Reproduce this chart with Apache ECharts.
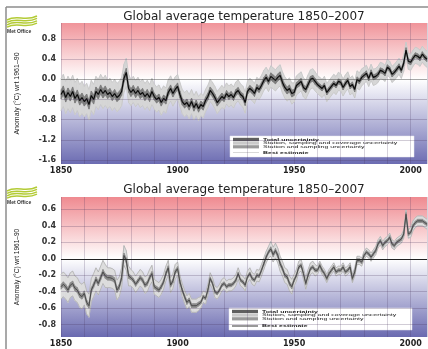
<!DOCTYPE html>
<html>
<head>
<meta charset="utf-8">
<script src="https://cdn.jsdelivr.net/npm/echarts@6/dist/echarts.min.js"></script>
<style>html,body{margin:0;padding:0;background:#fff}#chart{width:428px;height:349px}</style>
</head>
<body>
<div id="chart"></div>
<script>
var firstYear = 1850, lastYear = 2007;
var years = [];
for (var yr = firstYear; yr <= lastYear; yr++) years.push(yr);

var xLabelYears = [1850, 1900, 1950, 2000];
var topTicks = [-1.6, -1.2, -0.8, -0.4, 0.0, 0.4, 0.8];
var bottomTicks = [-0.8, -0.6, -0.4, -0.2, 0.0, 0.2, 0.4, 0.6];

// upper panel (noisy record), one value per year
var topBest = [
  -0.30, -0.22, -0.36, -0.26, -0.34, -0.24, -0.38, -0.30, -0.42, -0.36,
  -0.44, -0.38, -0.50, -0.32, -0.40, -0.24, -0.30, -0.20, -0.28, -0.22,
  -0.30, -0.26, -0.34, -0.28, -0.36, -0.32, -0.24, 0.02, 0.14, -0.18,
  -0.26, -0.20, -0.28, -0.22, -0.30, -0.26, -0.34, -0.28, -0.36, -0.24,
  -0.34, -0.40, -0.36, -0.46, -0.38, -0.42, -0.26, -0.18, -0.28, -0.20,
  -0.14, -0.30, -0.44, -0.50, -0.46, -0.54, -0.44, -0.56, -0.48, -0.58,
  -0.50, -0.54, -0.42, -0.34, -0.22, -0.28, -0.36, -0.46, -0.40, -0.34,
  -0.38, -0.28, -0.34, -0.30, -0.36, -0.26, -0.22, -0.30, -0.34, -0.46,
  -0.24, -0.18, -0.22, -0.28, -0.16, -0.20, -0.12, -0.02, 0.04, -0.04,
  0.06, 0.02, -0.02, 0.04, 0.08, -0.06, -0.16, -0.22, -0.18, -0.28,
  -0.26, -0.12, -0.08, -0.04, -0.16, -0.20, -0.10, 0.00, 0.02, -0.04,
  -0.10, -0.14, -0.18, -0.12, -0.26, -0.20, -0.14, -0.08, -0.12, -0.04,
  -0.06, -0.16, -0.08, -0.02, -0.14, -0.10, -0.20, 0.00, -0.04, 0.04,
  0.08, 0.12, 0.02, 0.14, 0.04, 0.06, 0.10, 0.18, 0.16, 0.12,
  0.24, 0.20, 0.10, 0.14, 0.20, 0.26, 0.18, 0.32, 0.58, 0.36,
  0.34, 0.42, 0.48, 0.46, 0.42, 0.50, 0.44, 0.40
];
// half widths of the grey spread per decade (1850s ... 2000s)
var topTotalUnc = [0.32, 0.30, 0.28, 0.26, 0.25, 0.24, 0.22, 0.21, 0.20, 0.21, 0.19, 0.18, 0.17, 0.16, 0.16, 0.16];
var topInnerUnc = [0.09, 0.09, 0.08, 0.08, 0.07, 0.07, 0.07, 0.06, 0.06, 0.07, 0.06, 0.05, 0.05, 0.05, 0.05, 0.05];

// lower panel (annual best estimate)
var bottomBest = [
  -0.34, -0.31, -0.34, -0.38, -0.32, -0.30, -0.36, -0.38, -0.44, -0.46,
  -0.42, -0.53, -0.57, -0.38, -0.32, -0.25, -0.30, -0.23, -0.16, -0.21,
  -0.23, -0.23, -0.24, -0.26, -0.38, -0.34, -0.23, 0.04, -0.02, -0.21,
  -0.23, -0.26, -0.31, -0.27, -0.23, -0.26, -0.32, -0.30, -0.23, -0.18,
  -0.34, -0.36, -0.38, -0.34, -0.28, -0.18, -0.11, -0.32, -0.27, -0.16,
  -0.12, -0.28, -0.38, -0.46, -0.53, -0.50, -0.57, -0.57, -0.57, -0.55,
  -0.53, -0.46, -0.48, -0.38, -0.24, -0.30, -0.40, -0.42, -0.38, -0.32,
  -0.30, -0.34, -0.32, -0.32, -0.30, -0.26, -0.18, -0.26, -0.28, -0.32,
  -0.22, -0.18, -0.24, -0.26, -0.20, -0.21, -0.14, -0.06, 0.02, 0.08,
  0.12, 0.05, 0.10, 0.04, -0.06, -0.12, -0.20, -0.22, -0.30, -0.34,
  -0.26, -0.20, -0.10, -0.08, -0.18, -0.30, -0.20, -0.12, -0.10, -0.14,
  -0.14, -0.08, -0.14, -0.18, -0.24, -0.18, -0.14, -0.10, -0.16, -0.14,
  -0.14, -0.10, -0.16, -0.14, -0.10, -0.24, -0.16, -0.02, -0.02, -0.04,
  0.04, 0.08, 0.06, 0.02, 0.06, 0.10, 0.18, 0.22, 0.16, 0.20,
  0.22, 0.26, 0.18, 0.16, 0.20, 0.22, 0.24, 0.30, 0.54, 0.30,
  0.32, 0.40, 0.44, 0.46, 0.46, 0.46, 0.44, 0.42
];
var bottomTotalUnc = [0.15, 0.14, 0.12, 0.10, 0.09, 0.08, 0.07, 0.07, 0.07, 0.09, 0.07, 0.05, 0.05, 0.05, 0.05, 0.06];
var bottomInnerUnc = [0.03, 0.03, 0.03, 0.025, 0.025, 0.025, 0.02, 0.02, 0.02, 0.025, 0.02, 0.02, 0.02, 0.02, 0.02, 0.02];

var legendLabels = ['Total uncertainty', 'Station, sampling and coverage uncertainty', 'Station and sampling uncertainty', 'Best estimate'];
var titleText = 'Global average temperature 1850\u20132007';
var axisName = 'Anomaly (\u00b0C) wrt 1961\u201390';

var dom = document.getElementById('chart');
var myChart = echarts.init(dom, null, { renderer: 'canvas' });

function uncAt(unc, i) { return unc[Math.floor(i / 10)]; }

function pairs(vals) {
  return vals.map(function (v, i) { return [years[i], v]; });
}
function edge(vals, unc, sign) {
  return vals.map(function (v, i) { return [years[i], +(v + sign * uncAt(unc, i)).toFixed(3)]; });
}
// one quad per year step: [x0, lo0, hi0, x1, lo1, hi1]
function bandData(vals, unc) {
  var out = [];
  for (var i = 0; i < vals.length - 1; i++) {
    var u0 = uncAt(unc, i), u1 = uncAt(unc, i + 1);
    out.push([years[i], vals[i] - u0, vals[i] + u0, years[i + 1], vals[i + 1] - u1, vals[i + 1] + u1]);
  }
  return out;
}

function bandSeries(idx, vals, unc, fill, edgeColor, edgeW, z) {
  var list = [{
    type: 'custom', xAxisIndex: idx, yAxisIndex: idx, silent: true, z: z,
    data: bandData(vals, unc),
    encode: { x: [0, 3], y: [1, 2, 4, 5] },
    renderItem: function (params, api) {
      var a = api.coord([api.value(0), api.value(1)]);
      var b = api.coord([api.value(3), api.value(4)]);
      var c = api.coord([api.value(3), api.value(5)]);
      var d = api.coord([api.value(0), api.value(2)]);
      return { type: 'polygon', shape: { points: [a, b, c, d] },
        style: { fill: fill, stroke: fill, lineWidth: 0.7 } };
    }
  }];
  if (edgeW > 0) {
    [-1, 1].forEach(function (s) {
      list.push({ type: 'line', xAxisIndex: idx, yAxisIndex: idx, data: edge(vals, unc, s), symbol: 'none',
        silent: true, z: z, lineStyle: { color: edgeColor, width: edgeW } });
    });
  }
  return list;
}

function gridLines(idx, ticks, zeroColor) {
  return {
    type: 'line', xAxisIndex: idx, yAxisIndex: idx, data: [[firstYear, 0]], symbol: 'none',
    lineStyle: { opacity: 0 }, silent: true, z: 1,
    markLine: {
      symbol: 'none', silent: true, label: { show: false },
      data: ticks.map(function (t) {
        return { yAxis: t, lineStyle: { type: 'solid', width: 1, color: t === 0 ? zeroColor : 'rgba(70,50,90,0.25)' } };
      })
    }
  };
}

function bgGradient(zeroOffset, topColor, bottomColor) {
  return new echarts.graphic.LinearGradient(0, 0, 0, 1, [
    { offset: 0, color: topColor },
    { offset: zeroOffset, color: '#ffffff' },
    { offset: 1, color: bottomColor }
  ]);
}

function xAxisFor(idx) {
  return {
    type: 'value', gridIndex: idx, min: firstYear, max: lastYear, interval: 10,
    axisLine: { show: false }, axisTick: { show: false },
    axisLabel: { margin: 3, fontSize: 8, fontWeight: 'bold', color: '#222', fontFamily: 'DejaVu Sans',
      showMaxLabel: false,
      formatter: function (v) { return xLabelYears.indexOf(v) >= 0 ? String(v) : ''; } },
    splitLine: { show: true, lineStyle: { color: 'rgba(70,50,90,0.22)', width: 1 } }
  };
}

function yAxisFor(idx, min, max, ticks, nameSize) {
  return {
    type: 'value', gridIndex: idx, min: min, max: max,
    name: axisName, nameLocation: 'middle', nameGap: 40,
    nameTextStyle: { fontSize: nameSize, color: '#222', fontFamily: 'Liberation Sans' },
    axisLine: { show: false }, axisTick: { show: false, customValues: ticks },
    axisLabel: { customValues: ticks, margin: 5, fontSize: 8, fontWeight: 'bold', color: '#333',
      fontFamily: 'DejaVu Sans', formatter: function (v) { return v.toFixed(1); } },
    splitLine: { show: false }
  };
}

function logo(x0, y0) {
  var els = [];
  for (var k = 0; k < 4; k++) {
    var yy = y0 + k * 2.4;
    els.push({ type: 'bezierCurve', silent: true,
      shape: { x1: x0, y1: yy + 3, cpx1: x0 + 10, cpy1: yy - 3, cpx2: x0 + 18, cpy2: yy + 5, x2: x0 + 30, y2: yy - 1 },
      style: { stroke: '#b3cb35', lineWidth: 1.5, fill: null } });
  }
  els.push({ type: 'text', x: x0, y: y0 + 12, silent: true,
    style: { text: 'Met Office', fontSize: 5, fontWeight: 'bold', fill: '#333', fontFamily: 'Liberation Sans' } });
  return els;
}

function legendBox(x, y, w, h, rows, lineColor) {
  var els = [{ type: 'rect', shape: { x: x, y: y, width: w, height: h }, style: { fill: '#fff', stroke: '#e4e4ee', lineWidth: 0.5 } }];
  var sw = [['#5f5f5f', rows[0], 3.4], ['#cacaca', rows[1], 3], ['#9a9a9a', rows[2], 3.2]];
  sw.forEach(function (s) {
    els.push({ type: 'rect', shape: { x: x + 3, y: s[1] - s[2] / 2, width: 26, height: s[2] }, style: { fill: s[0] } });
  });
  els.push({ type: 'line', shape: { x1: x + 3, y1: rows[3], x2: x + 29, y2: rows[3] }, style: { stroke: lineColor, lineWidth: 1 } });
  legendLabels.forEach(function (t, i) {
    els.push({ type: 'text', x: x + 33, y: rows[i], scaleY: 0.55,
      style: { text: t, fontSize: 7, fill: '#222', fontFamily: 'Liberation Sans', verticalAlign: 'middle',
        fontWeight: (i === 0 || i === 3) ? 'bold' : 'normal' } });
  });
  return els;
}

var graphics = [
  { type: 'line', shape: { x1: 6, y1: 7, x2: 428, y2: 7 }, style: { stroke: '#8c8c8c', lineWidth: 1.5 } },
  { type: 'line', shape: { x1: 6, y1: 7, x2: 6, y2: 349 }, style: { stroke: '#8c8c8c', lineWidth: 1.5 } },
  { type: 'text', x: 244, y: 17, style: { text: titleText, fontSize: 12, fill: '#222', fontFamily: 'DejaVu Sans',
    align: 'center', verticalAlign: 'middle' } },
  { type: 'text', x: 244, y: 190, style: { text: titleText, fontSize: 12, fill: '#222', fontFamily: 'DejaVu Sans',
    align: 'center', verticalAlign: 'middle' } }
].concat(logo(7, 17), logo(7, 188),
  legendBox(230, 136, 184, 21, [139.5, 143.2, 146.8, 152.5], '#d8d8d8'),
  legendBox(229, 308, 183, 22, [311.5, 315.2, 318.8, 326], '#333'));

var option = {
  animation: false,
  backgroundColor: '#ffffff',
  grid: [
    { left: 61, right: 1, top: 23, height: 141, show: true, borderWidth: 0,
      backgroundColor: bgGradient(0.40, '#f0949a', '#6c6cb2') },
    { left: 61, right: 1, top: 197, height: 140, show: true, borderWidth: 0,
      backgroundColor: bgGradient(0.44, '#ef8a90', '#6a6ab0') }
  ],
  xAxis: [xAxisFor(0), xAxisFor(1)],
  yAxis: [yAxisFor(0, -1.68, 1.12, topTicks, 7), yAxisFor(1, -0.95, 0.75, bottomTicks, 6.5)],
  graphic: graphics,
  series: [gridLines(0, topTicks, 'rgba(60,60,60,0.45)'), gridLines(1, bottomTicks, '#222')]
    .concat(bandSeries(0, topBest, topTotalUnc, '#d6d6d6', '#bdbdbd', 0.5, 2))
    .concat(bandSeries(0, topBest, topInnerUnc, '#7d7d7d', '#777', 0, 3))
    .concat([{ type: 'line', xAxisIndex: 0, yAxisIndex: 0, data: pairs(topBest), symbol: 'none', z: 4,
      lineStyle: { color: '#0a0a0a', width: 1.2 } }])
    .concat(bandSeries(1, bottomBest, bottomTotalUnc, '#dddddd', '#a0a0a0', 0.6, 2))
    .concat(bandSeries(1, bottomBest, bottomInnerUnc, '#8c8c8c', '#8c8c8c', 0, 3))
    .concat([{ type: 'line', xAxisIndex: 1, yAxisIndex: 1, data: pairs(bottomBest), symbol: 'none', z: 4,
      lineStyle: { color: '#4a4a4a', width: 1 } }])
};

myChart.setOption(option);
window.addEventListener('resize', myChart.resize);
</script>
</body>
</html>
